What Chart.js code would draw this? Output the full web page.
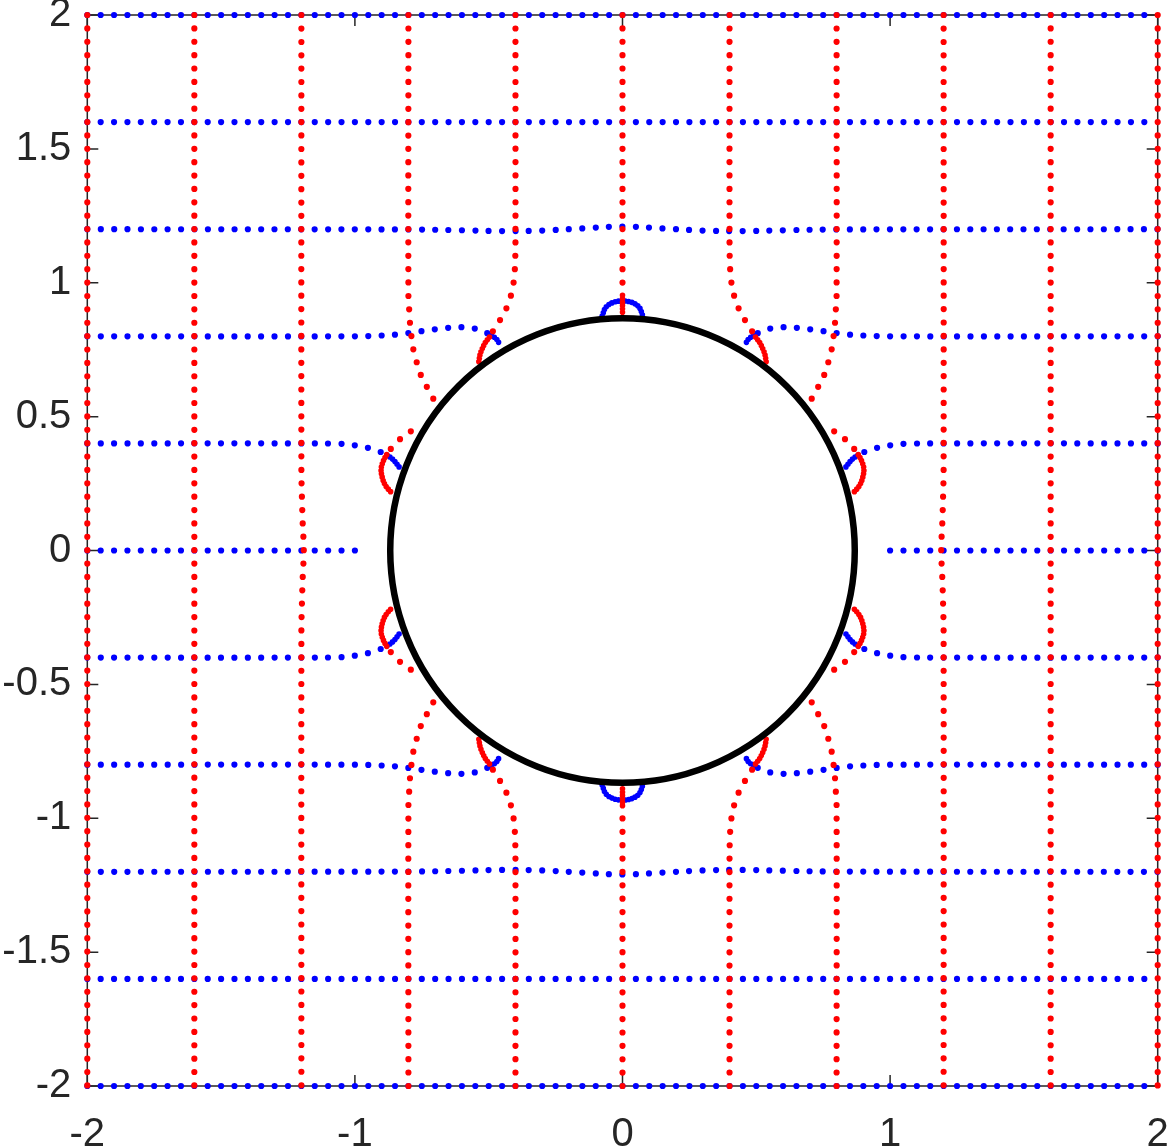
<!DOCTYPE html>
<html>
<head>
<meta charset="utf-8">
<script src="https://cdn.jsdelivr.net/npm/chart.js@4.4.0/dist/chart.umd.min.js"></script>
<style>
html,body{margin:0;padding:0;background:#fff;}
canvas{display:block;}
</style>
</head>
<body>
<canvas id="c" width="1169" height="1146"></canvas>
<script>
// ---------- tick values / labels ----------
const xTicks = [-2, -1, 0, 1, 2];
const xTickLabels = ['-2', '-1', '0', '1', '2'];
const yTicks = [-2, -1.5, -1, -0.5, 0, 0.5, 1, 1.5, 2];
const yTickLabels = ['-2', '-1.5', '-1', '-0.5', '0', '0.5', '1', '1.5', '2'];

// ---------- obstacle circle ----------
const circleCenter = [0, 0];
const circleRadius = 0.868;

// ---------- blue (horizontal) lines ----------
const blueY2   = [[-2, 2], [2, 2]];
const blueY16  = [[-2, 1.6], [2, 1.6]];
const blueYm16 = [[-2, -1.6], [2, -1.6]];
const blueYm2  = [[-2, -2], [2, -2]];
const blueY12  = [[-2, 1.2], [-0.8, 1.199], [-0.6, 1.196], [-0.45, 1.193], [-0.3, 1.195], [-0.15, 1.203], [0, 1.21], [0.15, 1.203], [0.3, 1.195], [0.45, 1.193], [0.6, 1.196], [0.8, 1.199], [2, 1.2]];
const blueYm12 = [[-2, -1.2], [-0.8, -1.199], [-0.6, -1.196], [-0.45, -1.193], [-0.3, -1.195], [-0.15, -1.203], [0, -1.21], [0.15, -1.203], [0.3, -1.195], [0.45, -1.193], [0.6, -1.196], [0.8, -1.199], [2, -1.2]];

const blueY08L  = [[-2, 0.8], [-1.0, 0.8], [-0.9, 0.803], [-0.84, 0.807], [-0.744, 0.82], [-0.66, 0.831], [-0.6, 0.834], [-0.553, 0.829], [-0.522, 0.82], [-0.49, 0.803]];
const blueY08R  = [[2, 0.8], [1.0, 0.8], [0.9, 0.803], [0.84, 0.807], [0.744, 0.82], [0.66, 0.831], [0.6, 0.834], [0.553, 0.829], [0.522, 0.82], [0.49, 0.803]];
const blueYm08L = [[-2, -0.8], [-1.0, -0.8], [-0.9, -0.803], [-0.84, -0.807], [-0.744, -0.82], [-0.66, -0.831], [-0.6, -0.834], [-0.553, -0.829], [-0.522, -0.82], [-0.49, -0.803]];
const blueYm08R = [[2, -0.8], [1.0, -0.8], [0.9, -0.803], [0.84, -0.807], [0.744, -0.82], [0.66, -0.831], [0.6, -0.834], [0.553, -0.829], [0.522, -0.82], [0.49, -0.803]];
const blueY08Ld  = [[-0.49, 0.803], [-0.472, 0.791], [-0.457, 0.766]];
const blueY08Rd  = [[0.49, 0.803], [0.472, 0.791], [0.457, 0.766]];
const blueYm08Ld = [[-0.49, -0.803], [-0.472, -0.791], [-0.457, -0.766]];
const blueYm08Rd = [[0.49, -0.803], [0.472, -0.791], [0.457, -0.766]];

const blueY04L  = [[-2, 0.4], [-1.2, 0.4], [-1.068, 0.399], [-1.023, 0.396], [-0.983, 0.39], [-0.945, 0.382], [-0.911, 0.371], [-0.88, 0.356]];
const blueY04R  = [[2, 0.4], [1.2, 0.4], [1.068, 0.399], [1.023, 0.396], [0.983, 0.39], [0.945, 0.382], [0.911, 0.371], [0.88, 0.356]];
const blueYm04L = [[-2, -0.4], [-1.2, -0.4], [-1.068, -0.399], [-1.023, -0.396], [-0.983, -0.39], [-0.945, -0.382], [-0.911, -0.371], [-0.88, -0.356]];
const blueYm04R = [[2, -0.4], [1.2, -0.4], [1.068, -0.399], [1.023, -0.396], [0.983, -0.39], [0.945, -0.382], [0.911, -0.371], [0.88, -0.356]];
const blueY04Ld  = [[-0.88, 0.356], [-0.871, 0.351], [-0.852, 0.334], [-0.834, 0.311]];
const blueY04Rd  = [[0.88, 0.356], [0.871, 0.351], [0.852, 0.334], [0.834, 0.311]];
const blueYm04Ld = [[-0.88, -0.356], [-0.871, -0.351], [-0.852, -0.334], [-0.834, -0.311]];
const blueYm04Rd = [[0.88, -0.356], [0.871, -0.351], [0.852, -0.334], [0.834, -0.311]];

const blueY0L = [[-2, 0], [-0.997, 0]];
const blueY0R = [[2, 0], [0.997, 0]];

const blueArcTop    = [[-0.076, 0.876], [-0.062, 0.909], [-0.034, 0.927], [0, 0.932], [0.034, 0.927], [0.062, 0.909], [0.076, 0.876]];
const blueArcBottom = [[-0.076, -0.876], [-0.062, -0.909], [-0.034, -0.927], [0, -0.932], [0.034, -0.927], [0.062, -0.909], [0.076, -0.876]];

// ---------- red (vertical) lines ----------
const redXm2  = [[-2, 2], [-2, -2.001]];
const redXm16 = [[-1.6, 2], [-1.6, -2.001]];
const redX16  = [[1.6, 2], [1.6, -2.001]];
const redX2   = [[2, 2], [2, -2.001]];
const redXm12 = [[-1.2, 2], [-1.2, 0.3], [-1.198, 0.2], [-1.195, 0.1], [-1.192, 0.04], [-1.191, 0], [-1.192, -0.04], [-1.195, -0.1], [-1.198, -0.2], [-1.2, -0.3], [-1.2, -2.001]];
const redX12  = [[1.2, 2], [1.2, 0.3], [1.198, 0.2], [1.195, 0.1], [1.192, 0.04], [1.191, 0], [1.192, -0.04], [1.195, -0.1], [1.198, -0.2], [1.2, -0.3], [1.2, -2.001]];

const redXm08T = [[-0.8, 2], [-0.8, 0.95], [-0.797, 0.897], [-0.795, 0.86], [-0.79, 0.812], [-0.784, 0.763], [-0.771, 0.71], [-0.753, 0.654], [-0.715, 0.582], [-0.69, 0.535]];
const redXm08B = [[-0.8, -2], [-0.8, -0.95], [-0.797, -0.897], [-0.795, -0.86], [-0.79, -0.812], [-0.784, -0.763], [-0.771, -0.71], [-0.753, -0.654], [-0.715, -0.582], [-0.69, -0.535]];
const redX08T  = [[0.8, 2], [0.8, 0.95], [0.797, 0.897], [0.795, 0.86], [0.79, 0.812], [0.784, 0.763], [0.771, 0.71], [0.753, 0.654], [0.715, 0.582], [0.69, 0.535]];
const redX08B  = [[0.8, -2], [0.8, -0.95], [0.797, -0.897], [0.795, -0.86], [0.79, -0.812], [0.784, -0.763], [0.771, -0.71], [0.753, -0.654], [0.715, -0.582], [0.69, -0.535]];

const redXm08MU = [[-0.791, 0.445], [-0.836, 0.412], [-0.862, 0.384], [-0.881, 0.358]];
const redXm08ML = [[-0.791, -0.445], [-0.836, -0.412], [-0.862, -0.384], [-0.881, -0.358]];
const redX08MU  = [[0.791, 0.445], [0.836, 0.412], [0.862, 0.384], [0.881, 0.358]];
const redX08ML  = [[0.791, -0.445], [0.836, -0.412], [0.862, -0.384], [0.881, -0.358]];
const redXm08MUd = [[-0.881, 0.358], [-0.893, 0.336], [-0.902, 0.305], [-0.898, 0.274], [-0.886, 0.243], [-0.865, 0.218]];
const redXm08MLd = [[-0.881, -0.358], [-0.893, -0.336], [-0.902, -0.305], [-0.898, -0.274], [-0.886, -0.243], [-0.865, -0.218]];
const redX08MUd  = [[0.881, 0.358], [0.893, 0.336], [0.902, 0.305], [0.898, 0.274], [0.886, 0.243], [0.865, 0.218]];
const redX08MLd  = [[0.881, -0.358], [0.893, -0.336], [0.902, -0.305], [0.898, -0.274], [0.886, -0.243], [0.865, -0.218]];

const redXm04T = [[-0.4, 2], [-0.4, 1.15], [-0.401, 1.084], [-0.404, 1.028], [-0.412, 0.972], [-0.429, 0.916], [-0.452, 0.87], [-0.475, 0.834], [-0.497, 0.797]];
const redXm04B = [[-0.4, -2], [-0.4, -1.15], [-0.401, -1.084], [-0.404, -1.028], [-0.412, -0.972], [-0.429, -0.916], [-0.452, -0.87], [-0.475, -0.834], [-0.497, -0.797]];
const redX04T  = [[0.4, 2], [0.4, 1.15], [0.401, 1.084], [0.404, 1.028], [0.412, 0.972], [0.429, 0.916], [0.452, 0.87], [0.475, 0.834], [0.497, 0.797]];
const redX04B  = [[0.4, -2], [0.4, -1.15], [0.401, -1.084], [0.404, -1.028], [0.412, -0.972], [0.429, -0.916], [0.452, -0.87], [0.475, -0.834], [0.497, -0.797]];
const redXm04Td = [[-0.497, 0.797], [-0.512, 0.778], [-0.524, 0.754], [-0.532, 0.733], [-0.537, 0.704]];
const redXm04Bd = [[-0.497, -0.797], [-0.512, -0.778], [-0.524, -0.754], [-0.532, -0.733], [-0.537, -0.704]];
const redX04Td  = [[0.497, 0.797], [0.512, 0.778], [0.524, 0.754], [0.532, 0.733], [0.537, 0.704]];
const redX04Bd  = [[0.497, -0.797], [0.512, -0.778], [0.524, -0.754], [0.532, -0.733], [0.537, -0.704]];

const redX0T  = [[0, 2], [0, 0.953]];
const redX0B  = [[0, -2], [0, -0.953]];
const redX0Td = [[0, 0.953], [0, 0.88]];
const redX0Bd = [[0, -0.953], [0, -0.88]];

// ---------- build datasets ----------
const BLUE = '#0000ff', RED = '#ff0000';
const sampleStep = 0.05;

function spacing(ctx) {
  const s = ctx.chart.scales.x;
  return Math.abs(s.getPixelForValue(sampleStep) - s.getPixelForValue(0));
}
function mk(arr, color, dense, curved) {
  return {
    data: arr.map(p => ({x: p[0], y: p[1]})),
    showLine: true,
    borderColor: color,
    borderWidth: dense ? 5.6 : 6.2,
    borderCapStyle: 'round',
    borderJoinStyle: 'round',
    borderDash: dense ? [0, 3.4] : (ctx) => [0, spacing(ctx)],
    tension: curved ? 0.35 : 0,
    pointRadius: 0,
    pointHoverRadius: 0,
    fill: false,
    clip: false,
    order: color === RED ? 1 : 2
  };
}

const blueNormal = [blueY2, blueY16, blueYm16, blueYm2, blueY0L, blueY0R];
const blueCurved = [blueY12, blueYm12, blueY08L, blueY08R, blueYm08L, blueYm08R, blueY04L, blueY04R, blueYm04L, blueYm04R];
const blueDense  = [blueY08Ld, blueY08Rd, blueYm08Ld, blueYm08Rd, blueY04Ld, blueY04Rd, blueYm04Ld, blueYm04Rd, blueArcTop, blueArcBottom];
const redNormal  = [redXm2, redXm16, redX16, redX2, redX0T, redX0B];
const redCurved  = [redXm12, redX12, redXm08T, redXm08B, redX08T, redX08B, redXm08MU, redXm08ML, redX08MU, redX08ML, redXm04T, redXm04B, redX04T, redX04B];
const redDense   = [redXm08MUd, redXm08MLd, redX08MUd, redX08MLd, redXm04Td, redXm04Bd, redX04Td, redX04Bd, redX0Td, redX0Bd];

const datasets = [];
const circlePx = (ctx) => {
  const s = ctx.chart.scales.x;
  return Math.abs(s.getPixelForValue(circleRadius) - s.getPixelForValue(0));
};
datasets.push({
  data: [{x: circleCenter[0], y: circleCenter[1]}],
  pointRadius: circlePx,
  pointHoverRadius: circlePx,
  pointBackgroundColor: '#ffffff',
  pointBorderColor: '#000000',
  pointBorderWidth: 6.5,
  showLine: false,
  clip: false,
  order: 0
});
redDense.forEach(a => datasets.push(mk(a, RED, true, true)));
redCurved.forEach(a => datasets.push(mk(a, RED, false, true)));
redNormal.forEach(a => datasets.push(mk(a, RED, false, false)));
blueDense.forEach(a => datasets.push(mk(a, BLUE, true, true)));
blueCurved.forEach(a => datasets.push(mk(a, BLUE, false, true)));
blueNormal.forEach(a => datasets.push(mk(a, BLUE, false, false)));

// ---------- frame + inward ticks ----------
const framePlugin = {
  id: 'frame',
  beforeDatasetsDraw(chart) {
    const {ctx, chartArea: a, scales: {x, y}} = chart;
    const tl = 11;
    ctx.save();
    ctx.strokeStyle = '#262626';
    ctx.lineWidth = 1.5;
    ctx.strokeRect(a.left, a.top, a.right - a.left, a.bottom - a.top);
    ctx.beginPath();
    xTicks.forEach(v => {
      const p = x.getPixelForValue(v);
      ctx.moveTo(p, a.bottom); ctx.lineTo(p, a.bottom - tl);
      ctx.moveTo(p, a.top); ctx.lineTo(p, a.top + tl);
    });
    yTicks.forEach(v => {
      const p = y.getPixelForValue(v);
      ctx.moveTo(a.left, p); ctx.lineTo(a.left + tl, p);
      ctx.moveTo(a.right, p); ctx.lineTo(a.right - tl, p);
    });
    ctx.stroke();
    ctx.restore();
  }
};

const tickFont = {family: "'Liberation Sans', Arial, Helvetica, sans-serif", size: 40};

new Chart(document.getElementById('c'), {
  type: 'scatter',
  data: {datasets},
  options: {
    responsive: false,
    animation: false,
    events: [],
    layout: {padding: {top: 15, right: 11.3, bottom: 0, left: 0}},
    plugins: {legend: {display: false}, tooltip: {enabled: false}},
    scales: {
      x: {
        type: 'linear', min: -2, max: 2,
        grid: {display: false, drawTicks: false},
        border: {display: false},
        afterBuildTicks: (s) => { s.ticks = xTicks.map(v => ({value: v})); },
        afterFit: (s) => { s.height = 60; s.paddingLeft = 0; s.paddingRight = 0; s.paddingTop = 0; s.paddingBottom = 0; },
        ticks: {
          autoSkip: false, maxRotation: 0, minRotation: 0,
          color: '#262626', font: tickFont, padding: 25,
          callback: (v, i) => xTickLabels[i]
        }
      },
      y: {
        type: 'linear', min: -2, max: 2,
        grid: {display: false, drawTicks: false},
        border: {display: false},
        afterBuildTicks: (s) => { s.ticks = yTicks.map(v => ({value: v})); },
        afterFit: (s) => { s.width = 87.3; s.paddingLeft = 0; s.paddingRight = 0; s.paddingTop = 0; s.paddingBottom = 0; },
        ticks: {
          autoSkip: false,
          color: '#262626', font: tickFont, padding: 16,
          callback: (v, i) => yTickLabels[i]
        }
      }
    }
  },
  plugins: [framePlugin]
});
</script>
</body>
</html>
